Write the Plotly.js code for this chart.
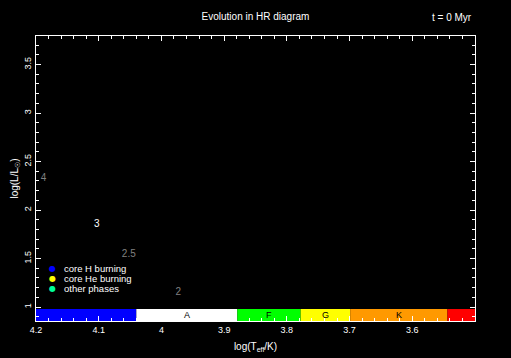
<!DOCTYPE html>
<html>
<head>
<meta charset="utf-8">
<script src="https://cdn.plot.ly/plotly-3.0.1.min.js"></script>
<style>html,body{margin:0;padding:0;background:#000;}#chart{width:511px;height:358px;}</style>
</head>
<body>
<div id="chart"></div>
<script>
// Spectral class bands along the bottom (log Teff boundaries)
var specClasses = ["B", "A", "F", "G", "K", "M"];
var specHi = [4.2, 4.04, 3.879, 3.778, 3.699, 3.544];
var specLo = [4.04, 3.879, 3.778, 3.699, 3.544, 3.5];
var specShowLabel = [false, true, true, true, true, false];
var specColors = ["#0000ff", "#ffffff", "#00ff00", "#ffff00", "#ff9900", "#ff0000"];

// ZAMS mass labels (solar masses)
var massLabels = ["4", "3", "2.5", "2"];
var massLogT = [4.188, 4.103, 4.052, 3.973];
var massLogL = [2.327, 1.853, 1.539, 1.147];
var massColors = ["#808080", "#ffffff", "#808080", "#808080"];

// Legend phases
var phaseNames = ["core H burning", "core He burning", "other phases"];
var phaseColors = ["#0000ff", "#ffff00", "#00ff99"];

var xTicks = [4.2, 4.1, 4.0, 3.9, 3.8, 3.7, 3.6];
var xTickText = ["4.2", "4.1", "4", "3.9", "3.8", "3.7", "3.6"];
var yTicks = [1, 1.5, 2, 2.5, 3, 3.5];
var yTickText = ["1", "1.5", "2", "2.5", "3", "3.5"];

var FONT = "Liberation Sans, DejaVu Sans, sans-serif";

var shapes = [];
var annotations = [];
for (var i = 0; i < specClasses.length; i++) {
  shapes.push({type: "rect", xref: "x", yref: "paper", x0: specHi[i], x1: specLo[i],
    y0: 0, y1: 0.042, fillcolor: specColors[i], line: {width: 0}, layer: "below"});
  if (specShowLabel[i]) {
    annotations.push({xref: "x", yref: "paper", x: (specHi[i] + specLo[i]) / 2, y: 0.021,
      text: specClasses[i], showarrow: false, font: {family: FONT, size: 9, color: "#000"},
      xanchor: "center", yanchor: "middle"});
  }
}
for (var j = 0; j < phaseNames.length; j++) {
  annotations.push({xref: "paper", yref: "paper", x: 0.038, y: 0.183 - j * 0.035,
    text: "●", showarrow: false, font: {family: "DejaVu Sans", size: 8, color: phaseColors[j]},
    xanchor: "center", yanchor: "middle"});
  annotations.push({xref: "paper", yref: "paper", x: 0.06, y: 0.183 - j * 0.035,
    text: phaseNames[j], showarrow: false, font: {family: FONT, size: 9.5, color: "#fff"},
    xanchor: "left", yanchor: "middle"});
}
annotations.push({xref: "paper", yref: "paper", x: 0.948, y: 1, text: "t = 0 Myr",
  showarrow: false, font: {family: FONT, size: 10, color: "#fff"}, xanchor: "center", yanchor: "middle", yshift: 19});

var traces = [{
  type: "scatter", mode: "text", x: massLogT, y: massLogL, text: massLabels,
  textfont: {family: FONT, size: 10, color: massColors}, textposition: "middle center",
  hoverinfo: "skip", showlegend: false
}];

var axisCommon = {
  showgrid: false, zeroline: false, showline: true, linecolor: "#fff", linewidth: 1,
  mirror: "ticks", ticks: "inside", ticklen: 5, tickcolor: "#fff", tickwidth: 1,
  tickfont: {family: FONT, size: 9, color: "#fff"}
};

var layout = {
  width: 511, height: 358,
  paper_bgcolor: "#000", plot_bgcolor: "#000",
  margin: {l: 36, r: 36, t: 36, b: 37},
  showlegend: false,
  title: {text: "Evolution in HR diagram", font: {family: FONT, size: 10, color: "#fff"},
    x: 0.5, xanchor: "center", y: 1 - 16 / 358, yanchor: "middle"},
  xaxis: Object.assign({}, axisCommon, {
    range: [4.2, 3.5], tickmode: "array", tickvals: xTicks, ticktext: xTickText,
    minor: {dtick: 0.02, ticklen: 3, tickcolor: "#fff", ticks: "inside"},
    title: {text: "log(T<sub>eff</sub>/K)", font: {family: FONT, size: 10, color: "#fff"}, standoff: 9}
  }),
  yaxis: Object.assign({}, axisCommon, {
    range: [0.856, 3.794], tickmode: "array", tickvals: yTicks, ticktext: yTickText, tickangle: -90,
    minor: {dtick: 0.1, ticklen: 3, tickcolor: "#fff", ticks: "inside"},
    title: {text: "log(L/L<sub>☉</sub>)", font: {family: FONT, size: 10, color: "#fff"}, standoff: 2}
  }),
  shapes: shapes,
  annotations: annotations
};

Plotly.newPlot("chart", traces, layout, {displayModeBar: false, staticPlot: true});
</script>
</body>
</html>
